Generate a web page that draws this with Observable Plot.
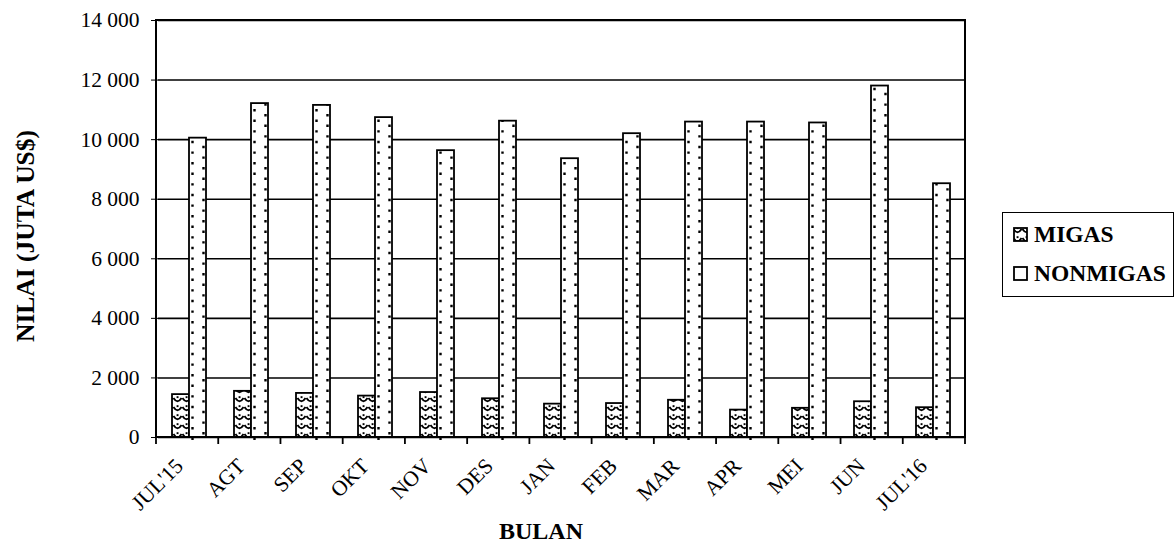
<!DOCTYPE html>
<html><head><meta charset="utf-8">
<script src="https://cdn.jsdelivr.net/npm/d3@7"></script>
<script src="https://cdn.jsdelivr.net/npm/@observablehq/plot@0.6"></script>
<style>
body{margin:0;background:#fff;}
#wrap{position:relative;width:1175px;height:542px;font-family:"Liberation Serif","Times New Roman",serif;color:#000;}
.ylab{position:absolute;left:26px;top:236px;transform:translate(-50%,-50%) rotate(-90deg);font-weight:bold;font-size:25.5px;white-space:nowrap;}
.xlab{position:absolute;left:541px;top:531px;transform:translate(-50%,-50%);font-weight:bold;font-size:24px;white-space:nowrap;}
.legend{position:absolute;left:1002px;top:212px;width:172px;height:85px;border:1.5px solid #000;box-sizing:border-box;background:#fff;}
.item{position:absolute;left:10px;display:flex;align-items:center;font-weight:bold;font-size:23.5px;white-space:nowrap;}
.item svg{margin-right:6px;}
</style></head>
<body>
<div id="wrap">
  <div id="chart"></div>
  <div class="ylab">NILAI (JUTA US$)</div>
  <div class="xlab">BULAN</div>
  <div class="legend">
    <div class="item" style="top:8px;"><svg width="15" height="15"><rect x="1" y="1" width="13" height="13" fill="url(#pMigas)" stroke="#000" stroke-width="1.8"/></svg>MIGAS</div>
    <div class="item" style="top:47px;"><svg width="15" height="15"><rect x="1" y="1" width="13" height="13" fill="#fff" stroke="#000" stroke-width="1.8"/></svg>NONMIGAS</div>
  </div>
</div>
<script>
const months = ["JUL'15","AGT","SEP","OKT","NOV","DES","JAN","FEB","MAR","APR","MEI","JUN","JUL'16"];
const migas = [1440,1550,1480,1390,1510,1300,1120,1140,1250,920,980,1200,1000];
const nonmigas = [10050,11210,11150,10740,9630,10620,9360,10200,10590,10590,10560,11800,8520];
const series = ["MIGAS","NONMIGAS"];
const yTicks = [0,2000,4000,6000,8000,10000,12000,14000];

const migasData = months.map((m,i)=>({month:m, series:series[0], value:migas[i]}));
const nonData = months.map((m,i)=>({month:m, series:series[1], value:nonmigas[i]}));
const fmt = d => d3.format(",")(d).replace(/,/g, " ");

const plot = Plot.plot({
  width:1175, height:542,
  marginLeft:156, marginRight:210, marginTop:20, marginBottom:105,
  style:{fontFamily:"Liberation Serif, Times New Roman, serif", fontSize:"21.5px", color:"#000", background:"#fff"},
  fx:{domain:months, padding:0, label:null, tickRotate:-45, tickSize:0, tickPadding:12},
  x:{domain:series, paddingInner:0, paddingOuter:0.73, axis:null},
  y:{domain:[0,14000], ticks:yTicks, tickFormat:fmt, tickSize:7, tickPadding:12, label:null},
  marks:[
    Plot.gridY(yTicks, {stroke:"#000", strokeOpacity:1, strokeWidth:1.6}),
    Plot.barY(migasData, {fx:"month", x:"series", y:"value", fill:"url(#pMigas)", stroke:"#000", strokeWidth:1.8}),
    Plot.barY(nonData, {fx:"month", x:"series", y:"value", fill:"#fff", stroke:"#000", strokeWidth:1.8}),
    Plot.ruleX(nonData, {fx:"month", x:"series", y1:0, y2:"value", dx:-5.5, insetTop:3, stroke:"#000", strokeWidth:2.4, strokeDasharray:"2.4 8.2"}),
    Plot.ruleX(nonData, {fx:"month", x:"series", y1:0, y2:"value", dx:5.5, insetTop:3, stroke:"#000", strokeWidth:2.4, strokeDasharray:"2.4 8.2", strokeDashoffset:5})
  ]
});
document.getElementById("chart").appendChild(plot);

const svg = d3.select(plot);
const defs = svg.insert("defs", ":first-child");
const pat = defs.append("pattern").attr("id","pMigas").attr("patternUnits","userSpaceOnUse").attr("width",9).attr("height",9);
pat.append("rect").attr("width",9).attr("height",9).attr("fill","#fff");
pat.append("path").attr("d","M0.5,2 Q4.5,8.5 8.5,2").attr("fill","none").attr("stroke","#000").attr("stroke-width",1.8);
pat.append("rect").attr("x",3.6).attr("y",0.2).attr("width",1.9).attr("height",1.9).attr("fill","#000");

// shift the rotated month labels to sit like the reference
svg.selectAll("g").filter(function(){ const a = this.getAttribute("aria-label") || ""; return a.startsWith("fx-axis"); })
  .each(function(){ const t = this.getAttribute("transform") || ""; this.setAttribute("transform", t + " translate(-10,13)"); });

// frame and boundary ticks from the library's scales
const fxs = plot.scale("fx"), ys = plot.scale("y");
const [r0, r1] = fxs.range;
const y0 = ys.apply(0), yTop = ys.apply(14000);
const step = (r1 - r0) / months.length;
const g = svg.append("g").attr("stroke","#000").attr("fill","none");
g.append("rect").attr("x", r0).attr("y", yTop).attr("width", r1 - r0).attr("height", y0 - yTop).attr("stroke-width", 2);
d3.range(months.length + 1).forEach(i => {
  g.append("line").attr("x1", r0 + i*step).attr("x2", r0 + i*step).attr("y1", y0).attr("y2", y0 + 7).attr("stroke-width", 1.8);
});
</script>
</body></html>
